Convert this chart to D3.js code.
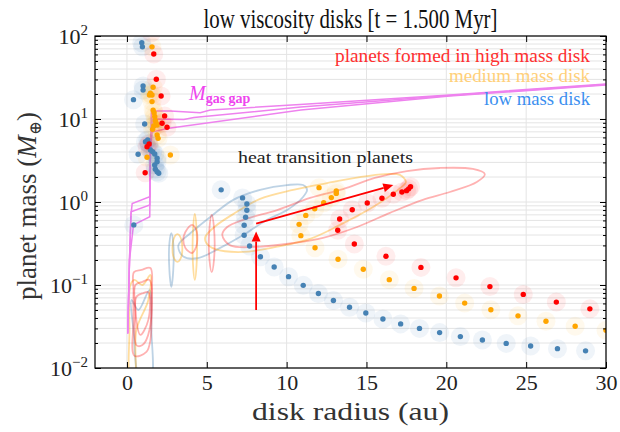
<!DOCTYPE html>
<html><head><meta charset="utf-8">
<script src="https://cdn.jsdelivr.net/npm/d3@7"></script>
<style>body{margin:0;background:#fff}svg{display:block}</style>
</head><body><svg id="c" width="620" height="432"></svg>
<script>
// ---------- data (disk radius in au, planet mass in Earth masses) ----------
const xTicks = [0, 5, 10, 15, 20, 25, 30];
const yTickExps = [-2, -1, 0, 1, 2];
const titleText = "low viscosity disks [t = 1.500 Myr]";
const legendLabels = ["planets formed in high mass disk", "medium mass disk", "low mass disk"];

const highMass = [[1.53,109],[1.68,60.7],[1.84,30.1],[2.14,18.9],[2.36,10.9],[2.2,8.87],[2.51,7.94],
  [1.39,5.0],[1.26,4.63],[1.14,2.25],
  [17.76,1.53],[17.64,1.44],[17.51,1.37],[17.22,1.32],[16.68,1.24],[15.97,1.11],[15.05,0.973],
  [14.11,0.807],[13.32,0.624],[13.2,0.456],[14.24,0.312],[16.22,0.222],[18.41,0.163],[20.61,0.122],
  [22.73,0.0957],[24.82,0.077],[26.89,0.0622],[28.99,0.0516]];
const mediumMass = [[1.57,74],[1.64,24.1],[1.47,20.4],[1.57,19.5],[1.41,19.5],[1.57,16.2],[1.64,12.8],
  [1.70,11.9],[1.74,10.7],[1.78,9.55],[1.83,8.87],[1.68,8.23],[1.61,7.5],[1.89,8.47],[1.89,6.42],
  [1.95,5.85],[1.26,3.46],[2.72,3.68],
  [12.03,1.49],[13.11,1.36],[13.11,1.27],[12.8,1.13],[12.32,0.98],[11.76,0.83],[11.2,0.69],
  [10.78,0.538],[10.89,0.393],[11.78,0.281],[13.22,0.204],[14.8,0.155],[16.43,0.116],[17.98,0.091],
  [19.57,0.0736],[21.15,0.0605],[22.79,0.0503],[24.49,0.0425],[26.24,0.0366],[28.07,0.0319],[30.0,0.0284]];
const lowMass = [[0.93,83],[0.97,74],[1.01,25],[1.01,22.3],[0.41,17.1],[1.11,8.7],[1.16,5.33],[1.30,5.58],
  [1.36,5.1],[1.47,4.23],[1.61,4.04],[1.74,3.78],[1.89,3.36],[1.89,3.06],[1.74,2.79],[1.78,2.48],
  [1.89,2.32],[1.99,2.22],[0.70,3.76],[0.43,0.53],
  [5.9,1.40],[7.24,1.12],[7.51,0.946],[7.51,0.794],[7.43,0.654],[7.34,0.524],[7.34,0.397],[7.68,0.295],
  [8.36,0.219],[9.22,0.165],
  [10.12,0.126],[11.04,0.099],[11.99,0.079],[12.93,0.065],[13.94,0.054],[14.96,0.046],[16.03,0.039],
  [17.14,0.034],[18.32,0.030],[19.58,0.0267],[20.88,0.0239],[22.26,0.0217],[23.75,0.0198],
  [25.28,0.0184],[26.96,0.0171],[28.72,0.0161]];

// density contours (closed outlines)
const contoursLow = [
  [[3.22,0.30],[3.97,0.42],[5.22,0.66],[6.66,1.06],[8.34,1.40],[10.03,1.60],[11.03,1.60],[11.28,1.40],[11.03,1.15],[10.03,0.80],[8.78,0.61],[7.28,0.40],[5.84,0.28],[4.41,0.21],[3.53,0.22]],
  [[2.78,0.42],[2.9,0.32],[2.9,0.15],[2.78,0.095],[2.66,0.15],[2.66,0.32]],
  [[0.28,0.066],[0.72,0.05],[1.41,0.087],[1.53,0.0287],[1.47,0.007],[0.84,0.007],[0.41,0.0287]]
];
const contoursMedium = [
  [[4.91,0.38],[5.53,0.51],[6.78,0.74],[8.34,1.09],[10.41,1.40],[12.53,1.69],[14.59,2.0],[16.16,2.17],[17.09,2.12],[17.47,1.74],[17.03,1.43],[15.41,0.87],[13.34,0.53],[11.47,0.36],[9.41,0.29],[7.28,0.25],[5.53,0.27],[4.97,0.32]],
  [[3.16,0.41],[3.41,0.35],[3.41,0.22],[3.16,0.19],[2.91,0.22],[2.91,0.35]],
  [[4.25,0.72],[4.36,0.46],[4.36,0.174],[4.25,0.115],[4.14,0.174],[4.14,0.46]],
  [[0.22,0.10],[0.47,0.115],[0.97,0.10],[1.47,0.132],[1.34,0.066],[0.59,0.0287],[0.47,0.007],[0.22,0.007],[0.16,0.0287]]
];
const contoursHigh = [
  [[5.97,0.40],[6.28,0.50],[7.28,0.61],[9.41,0.80],[11.47,1.12],[13.53,1.43],[15.53,1.95],[17.53,2.36],[19.59,2.57],[21.66,2.50],[22.41,2.17],[21.91,1.74],[20.22,1.32],[18.53,1.06],[16.47,0.74],[14.41,0.50],[12.28,0.37],[10.41,0.32],[8.34,0.29],[6.47,0.30]],
  [[4.08,0.53],[4.34,0.46],[4.41,0.35],[4.34,0.29],[4.08,0.243],[3.66,0.28],[3.53,0.35],[3.66,0.435]],
  [[5.31,0.70],[5.45,0.49],[5.45,0.20],[5.31,0.143],[5.17,0.20],[5.17,0.49]],
  [[0.44,0.143],[0.91,0.152],[1.47,0.16],[1.53,0.066],[1.47,0.0217],[1.22,0.0156],[0.47,0.0140],[0.41,0.038],[0.41,0.087]],
  [[0.53,0.10],[0.97,0.109],[1.41,0.115],[1.41,0.0287],[0.97,0.0189],[0.59,0.0189],[0.53,0.05]],
  [[0.59,0.0716],[1.03,0.080],[1.34,0.082],[1.34,0.038],[0.84,0.025],[0.59,0.038]]
];

// gas-gap mass curves
const gasGapCurves = [
  [[0.05,0.026],[0.16,0.2],[0.25,0.70],[0.33,0.96],[1.43,1.16],[1.47,4.2],[1.53,12.5],[2.72,12.5],[4.59,11.9],[5.22,12.8],[10.84,15.0],[20.22,19.5],[30,26.4]],
  [[0.05,0.026],[0.16,0.2],[0.26,0.76],[1.43,0.92],[1.47,4.2],[1.58,10.0],[3.56,9.84],[4.19,10.4],[10.89,13.95],[20.22,19.2],[30,26.0]],
  [[0.05,0.026],[0.16,0.2],[0.41,0.53],[1.43,0.665],[1.47,4.2],[1.58,6.97],[2.51,7.66],[10.89,12.8],[20.22,18.9],[30,25.7]]
];

// annotation arrows [from, to]
const arrows = [[[8.09,0.05],[8.09,0.44]], [[8.09,0.55],[16.68,1.60]]];

// ---------- drawing ----------
const svg = d3.select("#c");
const L = 95, R = 606, T = 36, B = 368;
const x = d3.scaleLinear().domain([-2, 30]).range([L, R]);
const y = d3.scaleLog().domain([0.01, 100]).range([B, T]);
const serif = "'Liberation Serif','DejaVu Serif',serif";

svg.append("defs").append("clipPath").attr("id","clip")
  .append("rect").attr("x",L).attr("y",T).attr("width",R-L).attr("height",B-T);

// grid
const majorY = yTickExps.map(e => Math.pow(10, e));
const minorY = [];
for (let e = -2; e < 2; e++) for (let k = 2; k <= 9; k++) minorY.push(k * Math.pow(10, e));
const grid = svg.append("g");
grid.selectAll(".gy").data(majorY.concat(minorY)).join("line")
  .attr("x1", L).attr("x2", R).attr("y1", d => y(d)).attr("y2", d => y(d))
  .attr("stroke", "#e4e4e4").attr("stroke-width", 1);
grid.selectAll(".gx").data(xTicks).join("line")
  .attr("y1", T).attr("y2", B).attr("x1", d => x(d)).attr("x2", d => x(d))
  .attr("stroke", "#e4e4e4").attr("stroke-width", 1);

const plot = svg.append("g").attr("clip-path", "url(#clip)");

// contours
const cl = d3.line().x(d => x(d[0])).y(d => y(d[1])).curve(d3.curveCatmullRomClosed.alpha(0.5));
const contourSets = [[contoursLow, "#4682b4", 0.35], [contoursMedium, "#ffa500", 0.38], [contoursHigh, "#ff0000", 0.3]];
contourSets.forEach(([set, col, op]) => {
  plot.selectAll(null).data(set).join("path").attr("d", cl)
    .attr("fill", "none").attr("stroke", col).attr("stroke-opacity", op).attr("stroke-width", 1.8);
});

// gas gap curves
const ll = d3.line().x(d => x(d[0])).y(d => y(d[1]));
plot.selectAll(null).data(gasGapCurves).join("path").attr("d", ll)
  .attr("fill", "none").attr("stroke", "#ee82ee").attr("stroke-width", 1.5);

// points with halos
const series = [[lowMass, "#4682b4", 0.085], [mediumMass, "#ffa500", 0.07], [highMass, "#ff0000", 0.07]];
series.forEach(([pts, col, op]) => {
  plot.selectAll(null).data(pts).join("circle")
    .attr("cx", d => x(d[0])).attr("cy", d => y(d[1])).attr("r", 9.5)
    .attr("fill", col).attr("fill-opacity", op);
});
series.forEach(([pts, col]) => {
  plot.selectAll(null).data(pts).join("circle")
    .attr("cx", d => x(d[0])).attr("cy", d => y(d[1])).attr("r", 2.7)
    .attr("fill", col);
});

// arrows
arrows.forEach(([a, b]) => {
  const x1 = x(a[0]), y1 = y(a[1]), x2 = x(b[0]), y2 = y(b[1]);
  const ang = Math.atan2(y2 - y1, x2 - x1);
  const hl = 10, hw = 4.5;
  const bx = x2 - hl * Math.cos(ang), by = y2 - hl * Math.sin(ang);
  plot.append("line").attr("x1", x1).attr("y1", y1).attr("x2", bx).attr("y2", by)
    .attr("stroke", "#ff0000").attr("stroke-width", 1.8);
  const px = -Math.sin(ang) * hw, py = Math.cos(ang) * hw;
  plot.append("path").attr("d", `M${x2},${y2}L${bx + px},${by + py}L${bx - px},${by - py}Z`).attr("fill", "#ff0000");
});

// axes frame and ticks
const ax = svg.append("g");
const styleAxis = g => { g.select(".domain").remove(); g.selectAll("line").attr("stroke", "#000").attr("stroke-width", 1); };
ax.append("g").attr("transform", `translate(0,${B})`)
  .call(d3.axisBottom(x).tickValues(xTicks).tickSize(-6).tickPadding(6).tickFormat(d3.format("d")))
  .call(styleAxis)
  .call(g => g.selectAll("text").attr("font-family", serif).attr("font-size", 22).attr("fill", "#222"));
ax.append("g").attr("transform", `translate(0,${T})`)
  .call(d3.axisTop(x).tickValues(xTicks).tickSize(-6).tickFormat("")).call(styleAxis);
ax.append("g").attr("transform", `translate(${L},0)`)
  .call(d3.axisLeft(y).tickValues(majorY).tickSize(-6).tickFormat("")).call(styleAxis);
ax.append("g").attr("transform", `translate(${L},0)`)
  .call(d3.axisLeft(y).tickValues(minorY).tickSize(-3).tickFormat("")).call(styleAxis);
ax.append("g").attr("transform", `translate(${R},0)`)
  .call(d3.axisRight(y).tickValues(majorY).tickSize(-6).tickFormat("")).call(styleAxis);
ax.append("g").attr("transform", `translate(${R},0)`)
  .call(d3.axisRight(y).tickValues(minorY).tickSize(-3).tickFormat("")).call(styleAxis);
svg.append("rect").attr("x", L).attr("y", T).attr("width", R - L).attr("height", B - T)
  .attr("fill", "none").attr("stroke", "#000").attr("stroke-width", 1.2);

// y tick labels 10^n
yTickExps.forEach(e => {
  const t = svg.append("text").attr("x", 88).attr("y", y(Math.pow(10, e)) + 8)
    .attr("text-anchor", "end").attr("font-family", serif).attr("font-size", 22).attr("fill", "#222");
  t.append("tspan").text("10");
  t.append("tspan").attr("dy", -9).attr("font-size", 15).text(e < 0 ? "\u2212" + (-e) : String(e));
});

// title & axis labels
svg.append("text").attr("x", 350.5).attr("y", 28).attr("text-anchor", "middle")
  .attr("font-family", serif).attr("font-size", 28).attr("fill", "#111")
  .attr("textLength", 294).attr("lengthAdjust", "spacingAndGlyphs").text(titleText);
svg.append("text").attr("x", 350.5).attr("y", 420).attr("text-anchor", "middle")
  .attr("font-family", serif).attr("font-size", 26).attr("fill", "#333")
  .attr("textLength", 197).attr("lengthAdjust", "spacingAndGlyphs").text("disk radius (au)");
const yl = svg.append("text").attr("transform", "translate(36,206) rotate(-90)").attr("text-anchor", "middle")
  .attr("font-family", serif).attr("font-size", 27).attr("fill", "#333");
yl.append("tspan").text("planet mass (");
yl.append("tspan").attr("font-style", "italic").text("M");
yl.append("tspan").attr("dy", 5).attr("font-size", 17).text("\u2295");
yl.append("tspan").attr("dy", -5).text(")");

// legend text
const legCols = ["#ff3030", "#ffd07a", "#3b8fef"];
const legY = [62, 82, 105];
const legW = [255, 141, 106];
legendLabels.forEach((s, i) => {
  svg.append("text").attr("x", 590).attr("y", legY[i]).attr("text-anchor", "end")
    .attr("font-family", serif).attr("font-size", 19).attr("fill", legCols[i])
    .attr("textLength", legW[i]).attr("lengthAdjust", "spacingAndGlyphs").text(s);
});

// M_gas gap label
const mg = svg.append("text").attr("x", 189).attr("y", 100).attr("font-family", serif).attr("fill", "#ee44ee");
mg.append("tspan").attr("font-style", "italic").attr("font-size", 20).text("M");
mg.append("tspan").attr("dy", 3).attr("font-size", 14).attr("font-weight", "bold").text("gas gap");

// heat transition label
svg.append("text").attr("x", 238).attr("y", 163).attr("font-family", serif).attr("font-size", 17)
  .attr("fill", "#222").attr("textLength", 175).attr("lengthAdjust", "spacingAndGlyphs").text("heat transition planets");
</script></body></html>
